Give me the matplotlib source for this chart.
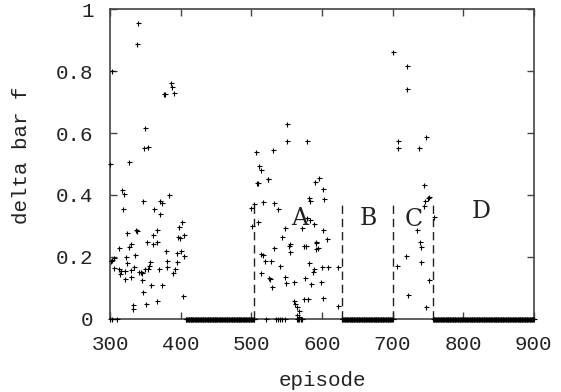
import matplotlib
matplotlib.use('Agg')
import matplotlib.pyplot as plt
import numpy as np

# scattered delta values (episode, delta bar f)
ep_early = [339, 338, 303, 386, 388, 391, 377, 376,
            350, 348, 353, 300, 327, 317, 319, 383, 347, 371, 374, 318, 362, 371,
            402, 398, 366, 324, 336, 338, 361, 396, 399, 405, 352, 360, 366,
            313, 326, 330, 379, 395, 401, 404, 335, 322, 302, 305, 301, 381,
            324, 356, 394, 355, 349, 353, 380, 392, 369, 305, 313, 316, 321,
            330, 334, 341, 344, 345, 314, 389, 329, 321, 345, 358, 373, 346,
            403, 367, 351, 333, 333, 300, 303, 309]
val_early = [0.955, 0.887, 0.802, 0.763, 0.748, 0.729, 0.726, 0.726,
             0.617, 0.551, 0.556, 0.500, 0.506, 0.415, 0.402, 0.400, 0.381, 0.380, 0.374, 0.353, 0.355, 0.338,
             0.313, 0.297, 0.286, 0.278, 0.286, 0.282, 0.269, 0.263, 0.260, 0.269, 0.248, 0.241, 0.247,
             0.229, 0.232, 0.240, 0.219, 0.213, 0.219, 0.203, 0.205, 0.198, 0.189, 0.195, 0.186, 0.187,
             0.181, 0.184, 0.182, 0.171, 0.159, 0.159, 0.168, 0.159, 0.161, 0.163, 0.159, 0.155, 0.155,
             0.156, 0.166, 0.150, 0.150, 0.146, 0.144, 0.146, 0.135, 0.127, 0.125, 0.109, 0.109, 0.087,
             0.073, 0.057, 0.047, 0.044, 0.030, 0.0, 0.0, 0.0]

ep_a = [550, 551, 579, 507, 530, 511, 513, 509, 508, 524, 523, 596, 590, 602,
        581, 583, 603, 517, 532, 503, 500, 537,
        510, 501, 579, 583, 589, 548, 571, 601, 607, 544, 591, 592, 555, 553,
        575, 578, 592, 594, 532, 555, 513, 516, 519, 528, 581, 540, 600, 608,
        623, 514, 525, 527, 529, 548, 549, 560, 576, 585, 588, 587, 598, 580,
        574, 602, 623,
        560, 562, 564, 567, 564, 567, 566, 570,
        503, 504, 521, 535, 538, 541, 544, 547, 565, 568, 571]
val_a = [0.629, 0.574, 0.575, 0.539, 0.544, 0.494, 0.482, 0.438, 0.440, 0.452, 0.450, 0.456, 0.442, 0.419,
         0.391, 0.379, 0.388, 0.378, 0.375, 0.370, 0.359, 0.353,
         0.313, 0.299, 0.324, 0.319, 0.307, 0.292, 0.294, 0.285, 0.256, 0.265, 0.245, 0.249, 0.240, 0.234,
         0.234, 0.236, 0.224, 0.229, 0.227, 0.214, 0.208, 0.205, 0.186, 0.186, 0.181, 0.170, 0.168, 0.167,
         0.167, 0.146, 0.130, 0.128, 0.103, 0.135, 0.114, 0.117, 0.130, 0.112, 0.159, 0.151, 0.119, 0.062,
         0.062, 0.065, 0.041,
         0.056, 0.046, 0.037, 0.025, 0.011, 0.005, 0.0, 0.0,
         0.0, 0.0, 0.0, 0.0, 0.0, 0.0, 0.0, 0.0, 0.0, 0.0, 0.0]

ep_c = [701, 720, 721, 708, 707, 747, 738, 744, 752, 750, 746, 745, 759,
        735, 739, 740, 719, 706, 740, 752, 722, 748]
val_c = [0.861, 0.818, 0.743, 0.574, 0.553, 0.588, 0.551, 0.431, 0.392, 0.390, 0.381, 0.364, 0.330,
         0.286, 0.249, 0.230, 0.202, 0.170, 0.182, 0.125, 0.076, 0.038]

# episodes where delta stays at zero
zero_spans = [(407, 502), (628, 700), (757, 900)]

# phase boundaries and labels
bounds = [503, 628.5, 701, 757.5]
bound_height = 0.38
phase_names = ['A', 'B', 'C', 'D']
phase_x = [569, 665, 730, 826]
phase_y = [0.325, 0.322, 0.32, 0.345]

mono = 'Liberation Mono'

fig = plt.figure(figsize=(5.61, 3.92), dpi=100)
ax = fig.add_axes([0.1964, 0.1875, 0.7551, 0.7883])

zero_ep = np.concatenate([np.arange(a, b + 1) for a, b in zero_spans])
all_ep = list(ep_early) + list(ep_a) + list(ep_c) + list(zero_ep)
all_val = list(val_early) + list(val_a) + list(val_c) + [0.0] * len(zero_ep)
ax.plot(all_ep, all_val, '+', color='black', markersize=3.6, mew=0.8,
        clip_on=False, zorder=3)

for b in bounds:
    ax.plot([b, b], [0, bound_height], color='#222222', lw=1.0,
            linestyle=(0, (6, 3.5)))

for name, x, y in zip(phase_names, phase_x, phase_y):
    ax.text(x, y, name, ha='center', va='center', fontsize=17,
            family='DejaVu Serif', color='#222222')

ax.set_xlim(300, 900)
ax.set_ylim(0, 1)
ax.set_xticks(range(300, 901, 100))
ax.set_yticks([0, 0.2, 0.4, 0.6, 0.8, 1])
ax.set_yticklabels(['0', '0.2', '0.4', '0.6', '0.8', '1'])
ax.tick_params(direction='in', length=5, width=1, top=True, right=True,
               color='#444444', labelsize=15, labelcolor='#222222')
ax.tick_params(axis='x', pad=12)
ax.tick_params(axis='y', pad=12)
for lab in ax.get_xticklabels() + ax.get_yticklabels():
    lab.set_family(mono)
for sp in ax.spines.values():
    sp.set_color('#444444')
    sp.set_linewidth(1.2)

ax.set_xlabel('episode', family=mono, fontsize=15, color='#222222', labelpad=12)
ax.set_ylabel('delta bar f', family=mono, fontsize=15, color='#222222')
ax.yaxis.set_label_coords(-0.188, 0.527)

fig.savefig('out.png', dpi=100)
